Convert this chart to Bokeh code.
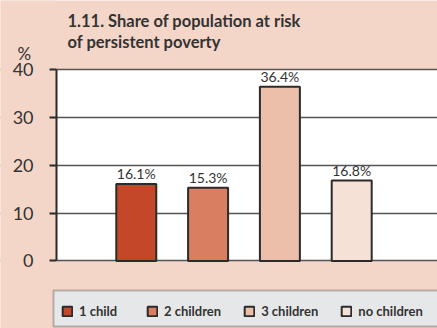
from bokeh.plotting import figure
from bokeh.models import (ColumnDataSource, Range1d, FixedTicker, Label, LabelSet,
                          Legend, LegendItem, BoxAnnotation)
from bokeh.core.properties import value
from bokeh.embed import file_html
from bokeh.resources import INLINE

# Data
categories = ["1 child", "2 children", "3 children", "no children"]
share = [16.1, 15.3, 36.4, 16.8]
colors = ["#c5472a", "#d97e60", "#ecbfab", "#f6e1d7"]
y_ticks = [0, 10, 20, 30, 40]

BG = "#f3d6c8"
INK = "#2b2b2b"
TXT = "#333333"
FONT = "Lato"

# x position where the value axis sits, left edge of the white plot area
AXIS_X = -1.111

source = ColumnDataSource(dict(
    x=list(range(len(categories))),
    share=share,
    label=[f"{v:.1f}%" for v in share],
    category=categories,
    color=colors,
))

p = figure(width=437, height=328, output_backend="svg", toolbar_location=None,
           x_range=Range1d(-1.891, 4.195), y_range=Range1d(-14.10, 54.41),
           x_axis_location=None,
           min_border_left=0, min_border_right=0,
           min_border_top=0, min_border_bottom=0)

p.background_fill_color = BG
p.border_fill_color = BG
p.outline_line_color = None

# White plotting area between 0 and 40 %
p.add_layout(BoxAnnotation(left=AXIS_X, bottom=0, top=40, fill_color="white",
                           fill_alpha=1, line_color=None, level="image"))

bars = p.vbar(x="x", top="share", width=0.557, bottom=0, source=source,
              fill_color="color", line_color=INK, line_width=2)

# Keep grid lines from running left of the axis
p.add_layout(BoxAnnotation(right=AXIS_X, fill_color=BG, fill_alpha=1,
                           line_color=None, level="glyph"))

# Value labels above each bar
p.add_layout(LabelSet(x="x", y="share", text="label", source=source,
                      text_align="center", text_baseline="bottom", y_offset=2,
                      text_font=value(FONT), text_font_size="14px",
                      text_color=TXT))

# Y axis pinned at the left edge of the plotting area
yax = p.yaxis[0]
yax.fixed_location = AXIS_X
yax.bounds = (0, 40)
yax.ticker = FixedTicker(ticks=y_ticks)
yax.axis_line_color = INK
yax.axis_line_width = 2
yax.major_tick_line_color = INK
yax.major_tick_line_width = 2
yax.major_tick_out = 7
yax.major_tick_in = 0
yax.minor_tick_line_color = None
yax.major_label_standoff = 16
yax.major_label_text_font = FONT
yax.major_label_text_font_size = "18px"
yax.major_label_text_color = TXT

p.xgrid.grid_line_color = None
p.ygrid.ticker = FixedTicker(ticks=y_ticks)
p.ygrid.grid_line_color = "#555555"
p.ygrid.grid_line_width = 1.5

# Title and unit
for txt, yy in [("1.11. Share of population at risk", 308),
                ("of persistent poverty", 287)]:
    p.add_layout(Label(x=67, y=yy, x_units="screen", y_units="screen", text=txt,
                       text_font=FONT, text_font_size="16.5px", text_font_style="bold",
                       text_color=TXT, text_baseline="alphabetic"))
p.add_layout(Label(x=17, y=275, x_units="screen", y_units="screen", text="%",
                   text_font=FONT, text_font_size="17px", text_color=TXT,
                   text_baseline="alphabetic"))

# Grey legend band running off the right edge
p.add_layout(BoxAnnotation(left=53, right=470, bottom=2, top=38,
                           left_units="screen", right_units="screen",
                           bottom_units="screen", top_units="screen",
                           fill_color="#e6e7e8", fill_alpha=1,
                           line_color=TXT, line_width=2, level="glyph"))

# Legend entries inside the band
legend = Legend(items=[LegendItem(label=c, renderers=[bars], index=i)
                       for i, c in enumerate(categories)],
                orientation="horizontal", location=(61, 9),
                glyph_width=12, glyph_height=12, label_standoff=6, spacing=22,
                label_width=45, label_height=12, padding=0, margin=0,
                label_text_font=FONT, label_text_font_size="13px",
                label_text_font_style="bold", label_text_color=TXT,
                border_line_color=None, background_fill_alpha=0)
p.add_layout(legend, "center")

open("out.html", "w").write(file_html(p, INLINE))
